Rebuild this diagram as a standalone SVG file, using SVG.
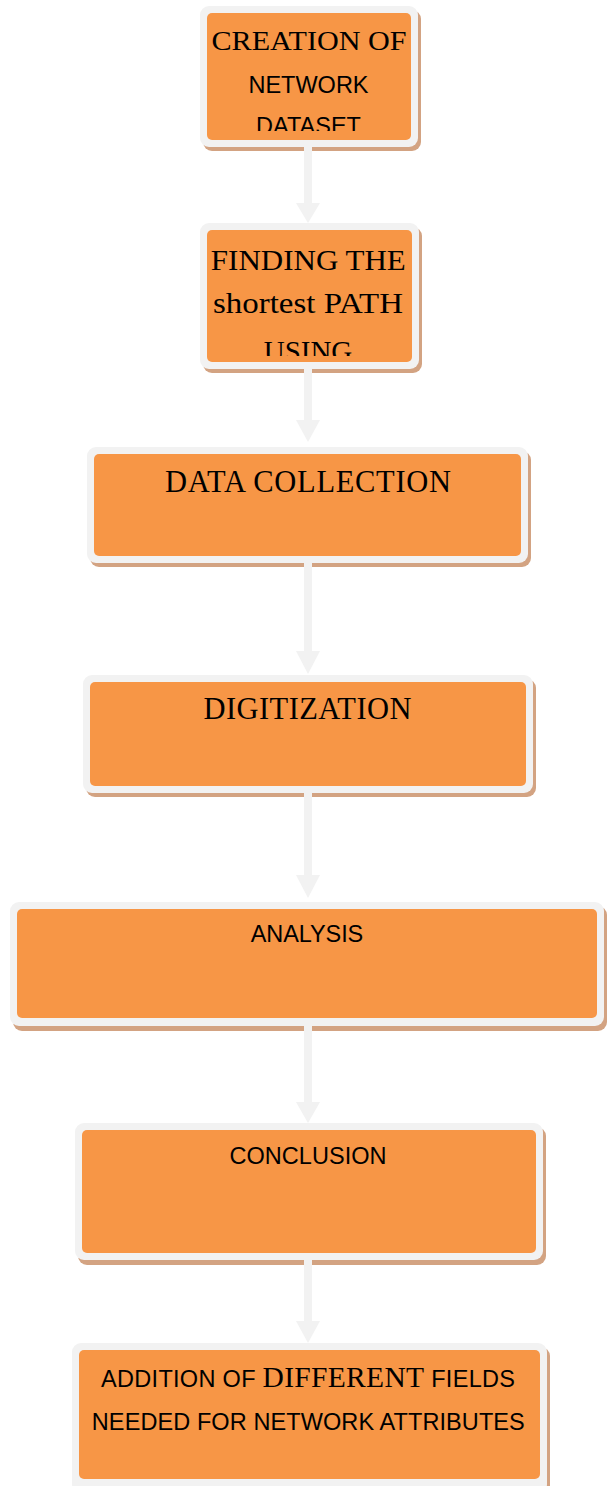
<svg xmlns="http://www.w3.org/2000/svg" width="610" height="1486" viewBox="0 0 610 1486">
<style>
.shadow{fill:#d3a382}
.border{fill:#f2f2f2}
.body{fill:#f79646}
.serif{font-family:"Liberation Serif","Times New Roman",serif;fill:#000;text-anchor:middle}
.sans{font-family:"Liberation Sans",Arial,sans-serif;font-size:23.5px;fill:#000;text-anchor:middle}
.conn{fill:#f2f2f2}
</style>
<defs>
<clipPath id="clip1"><rect x="200" y="6" width="220" height="125"/></clipPath>
<clipPath id="clip2"><rect x="200" y="223" width="220" height="133"/></clipPath>
</defs>
<rect x="0" y="0" width="610" height="1486" fill="#ffffff"/>

<g id="node1">
<rect class="shadow" x="203" y="10" width="218" height="141" rx="9"/>
<rect class="border" x="200" y="6" width="218" height="141" rx="9"/>
<rect class="body" x="207" y="13" width="204" height="127" rx="5"/>
<g clip-path="url(#clip1)">
<text class="serif" x="309" y="50" font-size="28" textLength="195" lengthAdjust="spacingAndGlyphs">CREATION OF</text>
<text class="sans" x="308.5" y="93">NETWORK</text>
<text class="sans" x="308.5" y="134">DATASET</text>
</g>
</g>

<g id="node2">
<rect class="shadow" x="203" y="227" width="219" height="146" rx="9"/>
<rect class="border" x="200" y="223" width="219" height="146" rx="9"/>
<rect class="body" x="207" y="230" width="205" height="132" rx="5"/>
<g clip-path="url(#clip2)">
<text class="serif" x="308.3" y="269.5" font-size="29" textLength="195" lengthAdjust="spacingAndGlyphs">FINDING THE</text>
<text class="serif" x="308" y="313" font-size="29" textLength="190" lengthAdjust="spacingAndGlyphs">shortest PATH</text>
<text class="serif" x="308" y="361" font-size="29">USING</text>
</g>
</g>

<g id="node3">
<rect class="shadow" x="90" y="451" width="441" height="116" rx="9"/>
<rect class="border" x="87" y="447" width="441" height="116" rx="9"/>
<rect class="body" x="94" y="454" width="427" height="102" rx="5"/>
<text class="serif" x="308" y="491.7" font-size="30.5" textLength="286">DATA COLLECTION</text>
</g>

<g id="node4">
<rect class="shadow" x="86" y="679" width="450" height="118" rx="9"/>
<rect class="border" x="83" y="675" width="450" height="118" rx="9"/>
<rect class="body" x="90" y="682" width="436" height="104" rx="5"/>
<text class="serif" x="307.5" y="719.3" font-size="30.5" textLength="208">DIGITIZATION</text>
</g>

<g id="node5">
<rect class="shadow" x="13" y="906" width="594" height="125" rx="9"/>
<rect class="border" x="10" y="902" width="594" height="124" rx="9"/>
<rect class="body" x="17" y="909" width="580" height="109" rx="5"/>
<text class="sans" x="307" y="942.3" textLength="112.6">ANALYSIS</text>
</g>

<g id="node6">
<rect class="shadow" x="78" y="1127" width="468" height="138" rx="9"/>
<rect class="border" x="75" y="1123" width="468" height="137" rx="9"/>
<rect class="body" x="82" y="1130" width="454" height="123" rx="5"/>
<text class="sans" x="308" y="1164.3" textLength="157">CONCLUSION</text>
</g>

<g id="node7">
<rect class="shadow" x="75" y="1347" width="475" height="150" rx="9"/>
<rect class="border" x="72" y="1343" width="475" height="150" rx="9"/>
<rect class="body" x="79" y="1350" width="461" height="129" rx="5"/>
<text class="sans" x="308" y="1386.7" textLength="414">ADDITION OF <tspan class="serif" font-size="29.5">DIFFERENT</tspan> FIELDS</text>
<text class="sans" x="308.3" y="1430" textLength="433">NEEDED FOR NETWORK ATTRIBUTES</text>
</g>

<g id="connectors">
<path class="conn" d="M304 147 H312 V203 H320 L308 223 L296 203 H304 Z"/>
<path class="conn" d="M304 369 H312 V420 H320 L308 442 L296 420 H304 Z"/>
<path class="conn" d="M304 562 H312 V651 H320 L308 674 L296 651 H304 Z"/>
<path class="conn" d="M304 793 H312 V875 H320 L308 898 L296 875 H304 Z"/>
<path class="conn" d="M304 1026 H312 V1102 H320 L308 1123 L296 1102 H304 Z"/>
<path class="conn" d="M304 1260 H312 V1321 H320 L308 1343 L296 1321 H304 Z"/>
</g>
</svg>
